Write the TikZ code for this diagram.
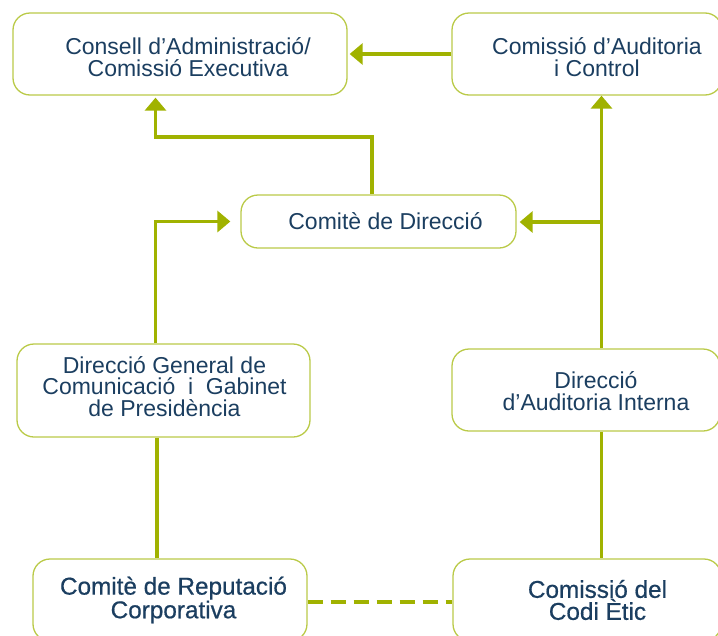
\documentclass[tikz,border=0pt]{standalone}
\usepackage{fontspec}
\setmainfont{Liberation Sans}
\newfontfamily\medfont[FakeBold=0.6]{Liberation Sans}
\usetikzlibrary{arrows.meta}
\definecolor{linegreen}{RGB}{160,178,0}
\definecolor{boxgreen}{RGB}{186,202,72}
\definecolor{textblue}{RGB}{27,62,96}
\begin{document}
\begin{tikzpicture}[x=1pt,y=-1pt,
	box/.style={draw=boxgreen, line width=1.3pt, rounded corners=17pt, inner sep=0pt},
	boxtext/.style={text=textblue, align=center, inner sep=0pt, font={\fontsize{23}{21.5}\selectfont}},
	lowtext/.style={boxtext, font={\medfont\fontsize{24.3}{22}\selectfont}},
	link/.style={draw=linegreen, line width=3.6pt},
	arr/.style={link, -{Triangle[length=13pt,width=21pt]}}]
	\useasboundingbox (0,0) rectangle (718,635);
	\clip (0,0) rectangle (718,635);
	\node[box, minimum width=334, minimum height=82,
		label={[boxtext, xshift=8pt, yshift=-3pt]center:{Consell d’Administració/\\Comissió Executiva}}] (consell) at (180,54) {};
	\node[box, minimum width=270, minimum height=82,
		label={[boxtext, xshift=10pt, yshift=-3pt]center:{Comissió d’Auditoria\\i Control}}] (auditoria) at (587,54) {};
	\node[box, minimum width=275, minimum height=53,
		label={[boxtext, xshift=7pt]center:{Comitè de Direcció}}] (comite) at (378.5,221.5) {};
	\node[box, minimum width=293, minimum height=93,
		label={[boxtext, xshift=1pt, yshift=4pt]center:{Direcció General de\\Comunicació~~i~~Gabinet\\de Presidència}}] (dgc) at (163.5,390.5) {};
	\node[box, minimum width=268, minimum height=82,
		label={[boxtext, xshift=10pt, yshift=-1pt]center:{Direcció\\d’Auditoria Interna}}] (audint) at (586,390) {};
	\node[box, minimum width=274, minimum height=82,
		label={[lowtext, xshift=3.5pt]center:{Comitè de Reputació\\Corporativa}}] (reput) at (170,600) {};
	\node[box, minimum width=268, minimum height=82,
		label={[lowtext, xshift=10.5pt]center:{Comissió del\\Codi Ètic}}] (codi) at (587,600) {};
	\coordinate (kA) at (155.5,137);
	\coordinate (kD) at (155.5,222);
	\coordinate (trunk) at (601.5,222);
	\draw[arr, shorten >=2pt] (auditoria.west |- consell.east) -- (consell.east);
	\draw[arr, shorten >=2pt] ([xshift=-6.5]comite.north) |- (kA) -- (kA |- consell.south);
	\draw[arr] (trunk |- audint.north) -- (trunk |- auditoria.south);
	\draw[arr, shorten >=3pt] (trunk) -- (trunk -| comite.east);
	\draw[arr, shorten >=10pt] (kD |- dgc.north) |- (comite.west);
	\draw[link] (157,0 |- dgc.south) -- (157,0 |- reput.north);
	\draw[link] (trunk |- audint.south) -- (trunk |- codi.north);
	\draw[link, line width=3.3pt, dash pattern=on 15pt off 8pt] (reput.east |- 0,602) -- (codi.west |- 0,602);
\end{tikzpicture}
\end{document}
